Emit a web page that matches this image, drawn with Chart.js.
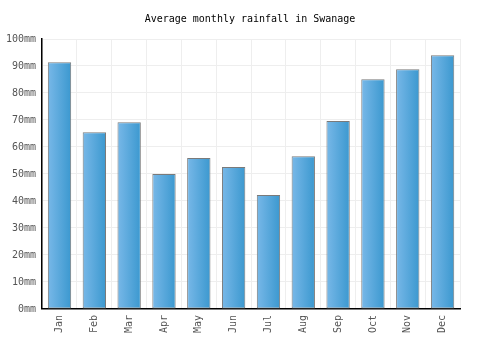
<!DOCTYPE html>
<html>
<head>
<meta charset="utf-8">
<script src="https://cdn.jsdelivr.net/npm/chart.js@4"></script>
<style>
  html, body { margin: 0; padding: 0; background: #fff; }
  #wrap { width: 500px; height: 350px; }
</style>
</head>
<body>
<div id="wrap"><canvas id="chart"></canvas></div>
<script>
// Data
const months = ['Jan', 'Feb', 'Mar', 'Apr', 'May', 'Jun', 'Jul', 'Aug', 'Sep', 'Oct', 'Nov', 'Dec'];
const rainfall = [91.4, 65.5, 69.2, 50.0, 55.9, 52.6, 42.2, 56.6, 69.6, 85.1, 88.8, 94.0];
const yTicks = [0, 10, 20, 30, 40, 50, 60, 70, 80, 90, 100];

const FONT = '"DejaVu Sans Mono", "Liberation Mono", monospace';
const BAR_PCT = 0.67;

// horizontal gradient per bar, light on the left, darker on the right
function barGradient(context) {
    const chart = context.chart;
    const xScale = chart.scales.x;
    if (!chart.chartArea || !xScale) {
        return '#5aa8de';
    }
    const center = xScale.getPixelForValue(context.dataIndex);
    const half = (xScale.width / months.length) * BAR_PCT / 2;
    const g = chart.ctx.createLinearGradient(center - half, 0, center + half, 0);
    g.addColorStop(0, '#78b8e8');
    g.addColorStop(1, '#3b98cf');
    return g;
}

new Chart(document.getElementById('chart'), {
    type: 'bar',
    data: {
        labels: months,
        datasets: [{
            label: 'Rainfall',
            data: rainfall,
            backgroundColor: barGradient,
            borderColor: '#7a7a7a',
            borderWidth: 1,
            borderSkipped: false,
            barPercentage: BAR_PCT,
            categoryPercentage: 1.0
        }]
    },
    options: {
        responsive: true,
        maintainAspectRatio: false,
        animation: false,
        layout: {
            padding: { top: 8, right: 0, left: 0, bottom: 11 }
        },
        plugins: {
            legend: { display: false },
            tooltip: { enabled: false },
            title: {
                display: true,
                text: 'Average monthly rainfall in Swanage',
                color: '#000',
                font: { family: FONT, size: 10, weight: 'normal' },
                padding: { top: 5, bottom: 14 }
            }
        },
        scales: {
            x: {
                grid: {
                    color: '#eeeeee',
                    drawTicks: false
                },
                border: { color: '#000', width: 1.5 },
                ticks: {
                    color: '#555',
                    font: { family: FONT, size: 10 },
                    minRotation: 90,
                    maxRotation: 90,
                    padding: 6
                }
            },
            y: {
                min: 0,
                max: 100,
                afterBuildTicks: function (axis) {
                    axis.ticks = yTicks.map(v => ({ value: v }));
                },
                grid: {
                    color: '#eeeeee',
                    drawTicks: false
                },
                border: { color: '#000', width: 1.5 },
                ticks: {
                    color: '#555',
                    font: { family: FONT, size: 10 },
                    padding: 6,
                    callback: function (v) { return v + 'mm'; }
                }
            },
            // empty right axis, only reserves the blank margin so the title stays centred
            yRight: {
                position: 'right',
                min: 0,
                max: 100,
                grid: { display: false, drawTicks: false },
                border: { display: false },
                ticks: { display: false },
                afterFit: function (axis) { axis.width = 40; }
            }
        }
    }
});
</script>
</body>
</html>
